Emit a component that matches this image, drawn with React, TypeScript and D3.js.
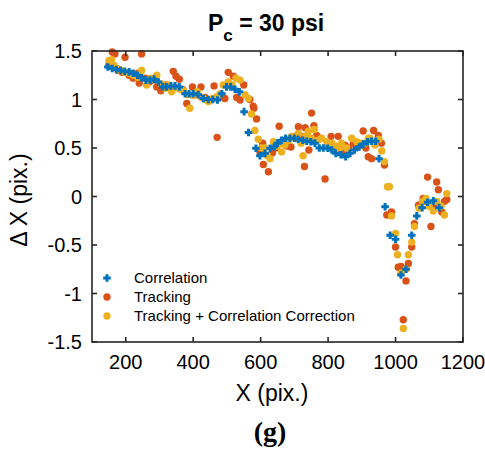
import React from "react";
import * as d3 from "d3";

// ---------- data ----------
const corrX = [147,160,172,185,197,210,222,235,247,260,272,284,297,310,321,334,346,359,376,388,400,415,430,445,458,472,485,499,511,524,537,551,564,586,598,613,628,640,650,662,674,687,700,711,725,737,749,761,774,786,799,811,823,838,852,865,878,892,904,917,929,941,951,969,984,1000,1016,1031,1048,1063,1079,1095,1112,1129];
const corrY = [1.335,1.32,1.31,1.3,1.29,1.285,1.27,1.25,1.225,1.2,1.2,1.21,1.18,1.13,1.13,1.14,1.14,1.13,1.06,1.06,1.06,1.05,1.01,1.0,1.0,0.995,1.06,1.13,1.13,1.105,1.08,0.875,0.66,0.497,0.42,0.445,0.497,0.51,0.55,0.58,0.6,0.6,0.6,0.59,0.58,0.57,0.565,0.55,0.5,0.5,0.497,0.48,0.445,0.43,0.41,0.445,0.48,0.51,0.54,0.565,0.57,0.57,0.39,-0.105,-0.4,-0.44,-0.81,-0.75,-0.4,-0.2,-0.115,-0.06,-0.045,-0.115];

const trackX = [150,160,168,178,190,198,210,222,235,240,247,258,270,282,292,304,318,330,341,349,359,370,381,398,410,423,435,448,462,471,480,494,504,519,529,539,550,568,578,580,588,598,606,608,623,635,645,655,665,678,690,700,712,722,730,732,743,751,758,766,776,791,800,809,818,830,840,848,850,862,875,890,904,912,919,929,935,949,958,967,974,988,1000,1008,1016,1023,1031,1038,1048,1056,1068,1082,1090,1095,1105,1112,1122,1127,1137,1145,1152];
const trackY = [1.36,1.49,1.47,1.3,1.28,1.435,1.25,1.22,1.27,1.17,1.47,1.22,1.18,1.2,1.13,1.09,1.15,1.12,1.29,1.24,1.21,1.1,0.96,1.13,1.05,1.13,1.02,0.99,1.14,0.61,1.03,1.01,1.28,1.24,1.02,0.995,1.15,1.0,0.93,0.91,0.8,0.46,0.55,0.33,0.255,0.45,0.5,0.725,0.55,0.52,0.51,0.62,0.72,0.62,0.31,0.71,0.48,0.86,0.73,0.63,0.6,0.18,0.55,0.62,0.5,0.62,0.47,0.43,0.53,0.5,0.55,0.52,0.675,0.5,0.41,0.39,0.68,0.63,0.55,0.325,-0.19,-0.16,-0.52,-0.73,-0.72,-1.27,-0.87,-0.69,-0.52,-0.28,-0.09,-0.02,-0.05,0.2,-0.31,-0.1,0.15,0.07,-0.16,-0.05,-0.03];

const tcX = [150,158,165,175,185,197,210,222,235,247,262,275,285,292,305,316,326,336,348,361,372,384,390,400,412,425,435,445,458,470,480,489,504,515,527,539,554,564,573,583,593,603,613,620,628,638,650,662,672,682,692,702,712,720,726,733,741,750,759,770,781,796,811,822,835,840,855,870,885,897,909,919,924,939,951,959,967,976,982,988,1000,1006,1016,1023,1031,1038,1048,1056,1070,1080,1090,1100,1112,1122,1135,1145,1152];
const tcY = [1.4,1.41,1.35,1.32,1.3,1.28,1.27,1.25,1.23,1.3,1.15,1.22,1.2,1.25,1.16,1.115,1.15,1.08,1.12,1.105,1.09,1.05,0.91,1.04,1.08,1.02,1.0,0.98,1.01,1.03,1.06,1.15,1.18,1.15,1.22,1.2,1.05,1.01,0.85,0.68,0.59,0.5,0.5,0.42,0.39,0.565,0.52,0.46,0.53,0.58,0.62,0.6,0.65,0.55,0.42,0.62,0.67,0.6,0.69,0.58,0.6,0.565,0.55,0.52,0.5,0.55,0.5,0.6,0.565,0.55,0.55,0.6,0.6,0.53,0.59,0.47,0.36,0.1,0.1,-0.2,-0.38,-0.6,-0.79,-1.36,-0.75,-0.6,-0.47,-0.31,-0.12,-0.05,-0.02,-0.1,-0.15,-0.05,-0.1,-0.19,0.03];

const xTicks = [200, 400, 600, 800, 1000, 1200];
const yTicks = [-1.5, -1, -0.5, 0, 0.5, 1, 1.5];
const legendLabels = ["Correlation", "Tracking", "Tracking + Correlation Correction"];

const BLUE = "#0072BD";
const ORANGE = "#D95319";
const YELLOW = "#EDB120";
const AXIS = "#262626";
const FONT = "'Liberation Sans', Arial, Helvetica, sans-serif";

const W = 485, H = 452;
const L = 92, R = 463, T = 51, B = 342;

function Plus({ x, y, s = 3.8 }: { x: number; y: number; s?: number }) {
  return (
    <path d={`M${x - s},${y}H${x + s}M${x},${y - s}V${y + s}`} stroke={BLUE} strokeWidth={3} fill="none" />
  );
}

export default function App() {
  const xs = d3.scaleLinear().domain([100, 1200]).range([L, R]);
  const ys = d3.scaleLinear().domain([-1.5, 1.5]).range([B, T]);
  const fmt = (v: number) => String(v);
  const r = 3.7;
  const legY = [278, 297, 316];
  return (
    <svg width={W} height={H} style={{ display: "block", position: "absolute", left: 0, top: 0 }} fontFamily={FONT}>
      <rect x={0} y={0} width={W} height={H} fill="#fff" />
      {/* data */}
      <g>
        {trackX.map((x, i) => (
          <circle key={"t" + i} cx={xs(x)} cy={ys(trackY[i])} r={r} fill={ORANGE} />
        ))}
        {tcX.map((x, i) => (
          <circle key={"c" + i} cx={xs(x)} cy={ys(tcY[i])} r={r} fill={YELLOW} />
        ))}
        {corrX.map((x, i) => (
          <Plus key={"p" + i} x={xs(x)} y={ys(corrY[i])} />
        ))}
      </g>
      {/* axes box */}
      <rect x={L} y={T} width={R - L} height={B - T} fill="none" stroke={AXIS} strokeWidth={1.6} />
      {xTicks.map((t) => (
        <g key={"xt" + t}>
          <line x1={xs(t)} x2={xs(t)} y1={B} y2={B - 5} stroke={AXIS} strokeWidth={1.6} />
          <line x1={xs(t)} x2={xs(t)} y1={T} y2={T + 5} stroke={AXIS} strokeWidth={1.6} />
          <text x={xs(t)} y={B + 27} textAnchor="middle" fontSize={20} fill="#000">{fmt(t)}</text>
        </g>
      ))}
      {yTicks.map((t) => (
        <g key={"yt" + t}>
          <line x1={L} x2={L + 5} y1={ys(t)} y2={ys(t)} stroke={AXIS} strokeWidth={1.6} />
          <line x1={R} x2={R - 5} y1={ys(t)} y2={ys(t)} stroke={AXIS} strokeWidth={1.6} />
          <text x={L - 10} y={ys(t)} dy="0.36em" textAnchor="end" fontSize={20} fill="#000">{fmt(t)}</text>
        </g>
      ))}
      {/* legend */}
      <g>
        <Plus x={107} y={legY[0]} />
        <circle cx={107} cy={legY[1]} r={r} fill={ORANGE} />
        <circle cx={107} cy={legY[2]} r={r} fill={YELLOW} />
        {legendLabels.map((s, i) => (
          <text key={s} x={134} y={legY[i]} dy="0.36em" fontSize={15} fill="#000">{s}</text>
        ))}
      </g>
      {/* title */}
      <text x={208} y={30.5} fontSize={23} fontWeight="bold" fill="#000">
        <tspan>P</tspan>
        <tspan fontSize={17} dy={10.5}>c</tspan>
        <tspan dy={-10.5}> = 30 psi</tspan>
      </text>
      {/* axis labels */}
      <text x={272} y={401} textAnchor="middle" fontSize={23} fill="#000">X (pix.)</text>
      <text transform={`translate(27,200) rotate(-90)`} textAnchor="middle" fontSize={23} fill="#000">Δ X (pix.)</text>
      <text x={270} y={441} textAnchor="middle" fontSize={28} fontWeight="bold" fontFamily="'Liberation Serif', 'Times New Roman', serif" fill="#000">(g)</text>
    </svg>
  );
}
